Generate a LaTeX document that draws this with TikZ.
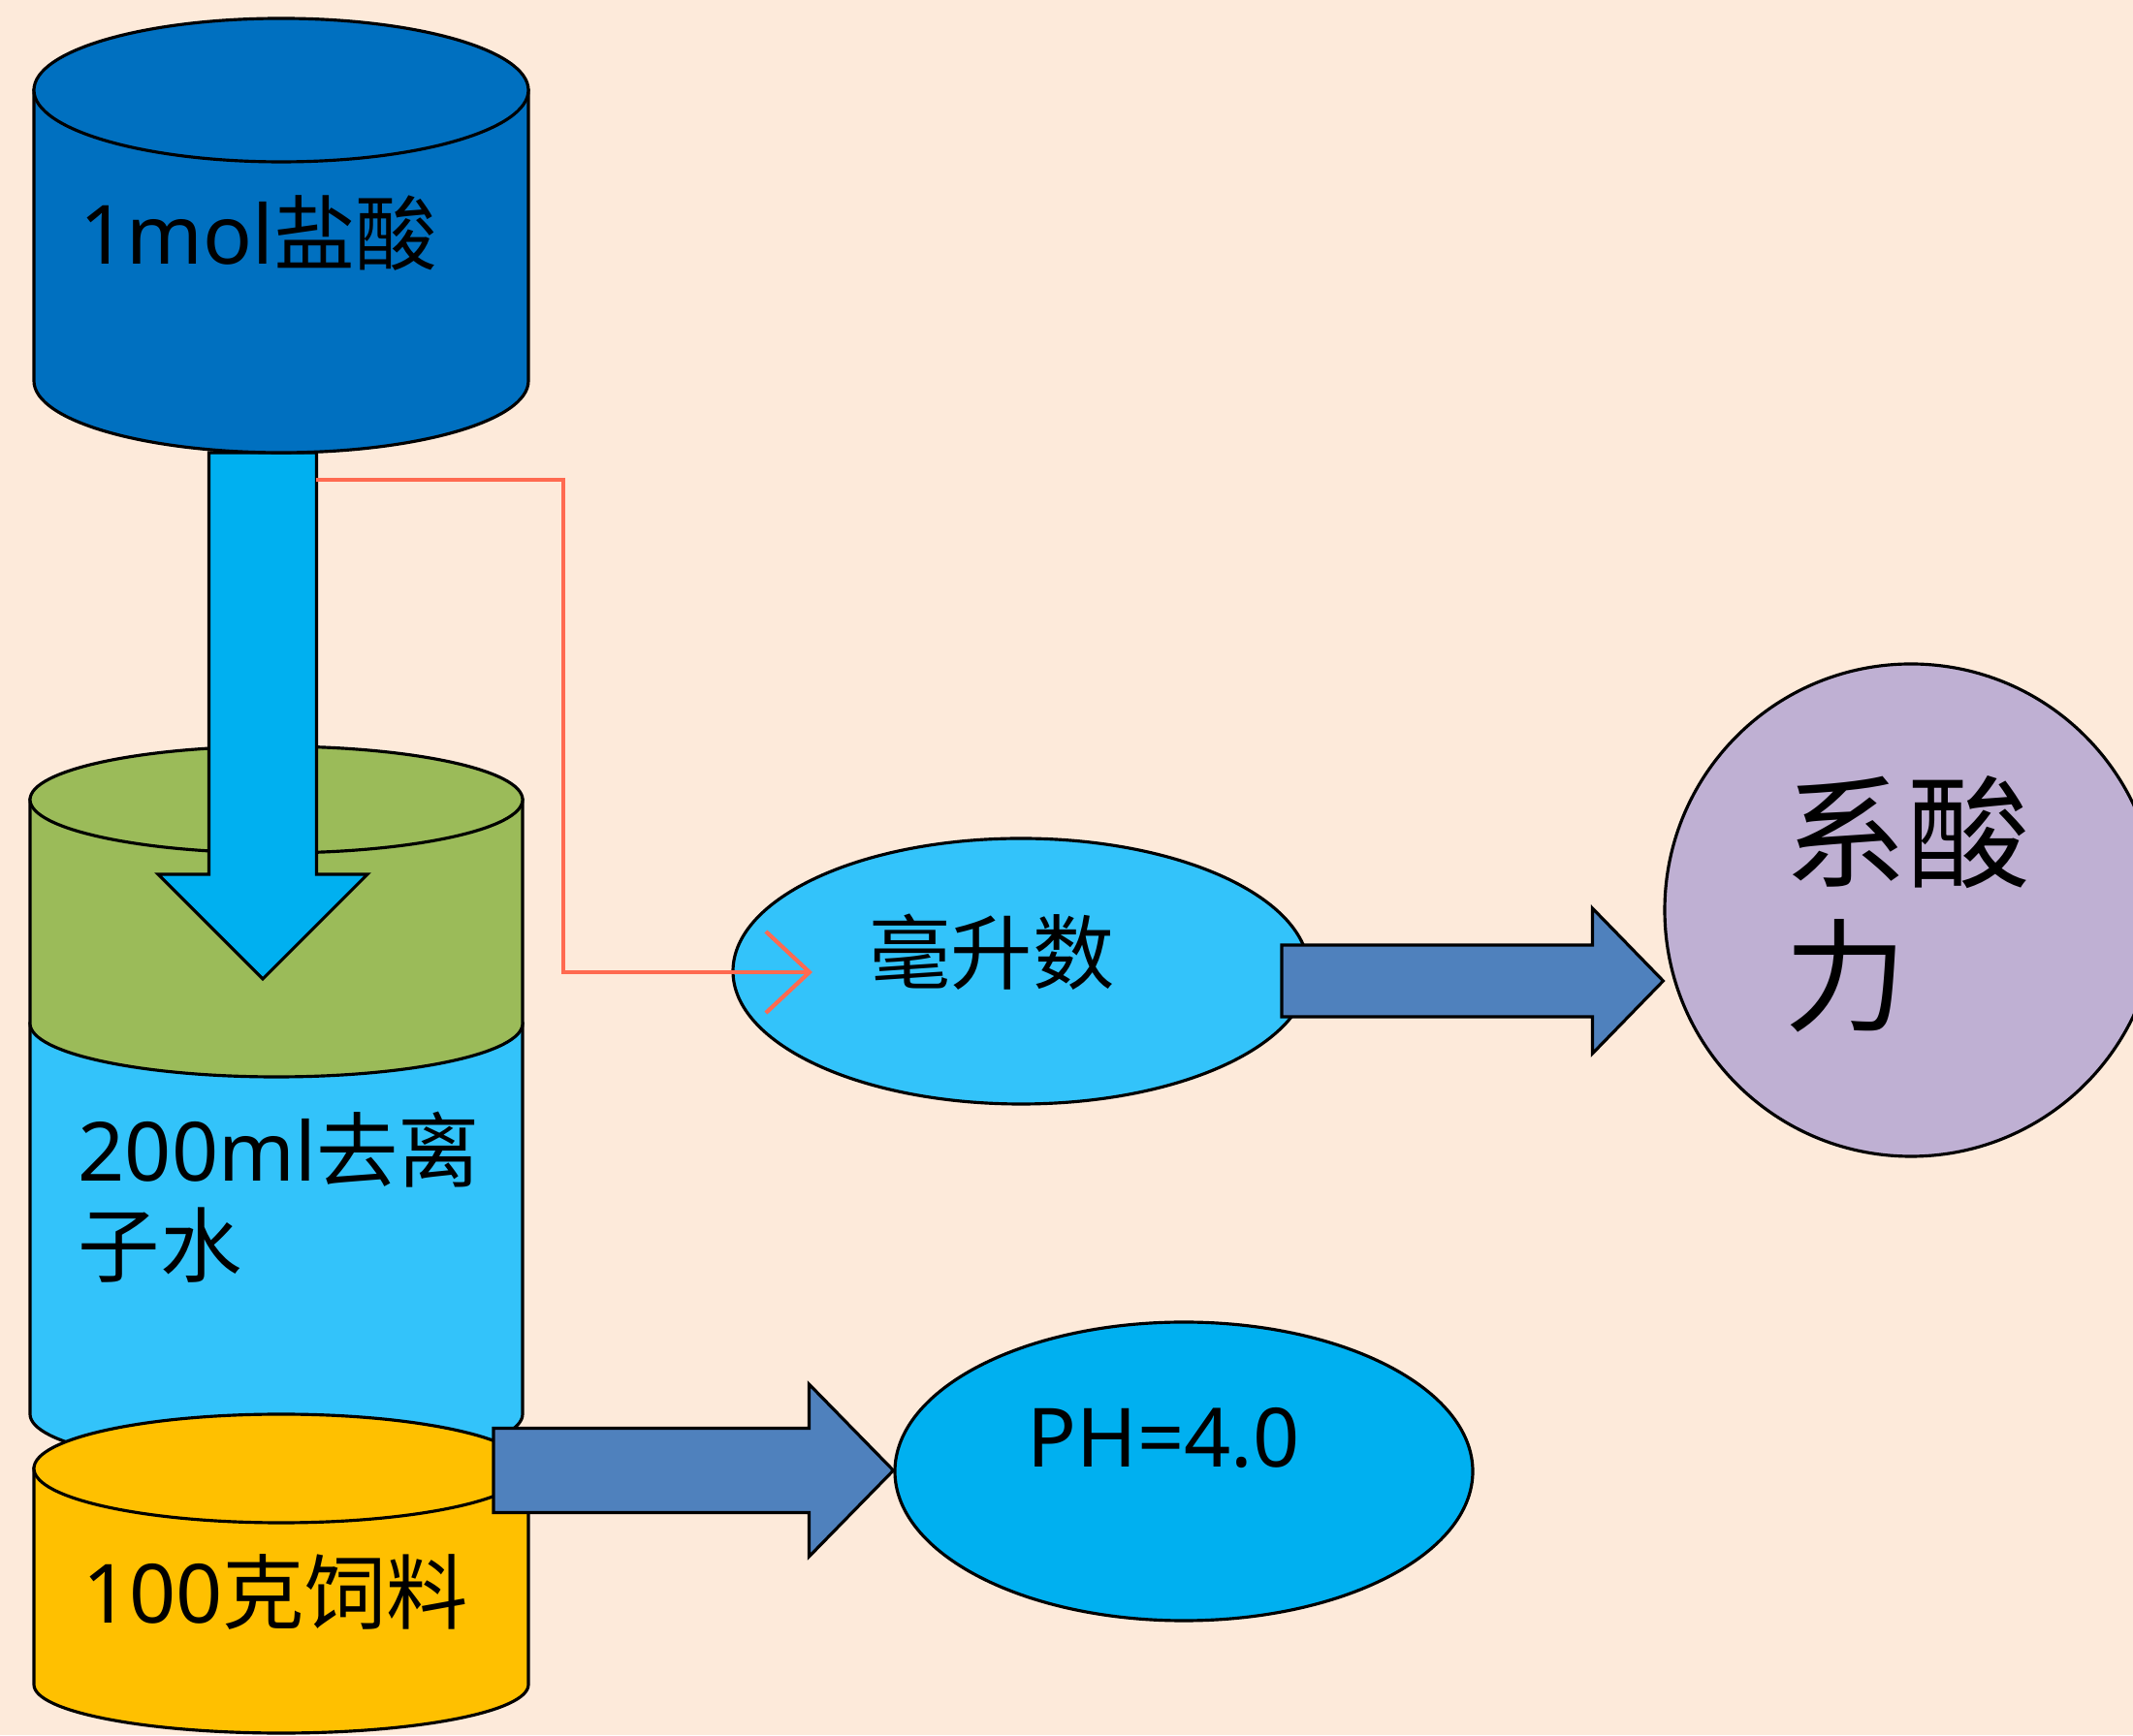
\documentclass[tikz,border=0pt]{standalone}
\usepackage{fontspec}
\setmainfont{Noto Sans}
\newfontfamily\cjk{Noto Sans CJK SC}
\usetikzlibrary{shapes.geometric,arrows.meta,calc}

\definecolor{fondo}{HTML}{FDEADA}
\definecolor{acido}{HTML}{0070C0}
\definecolor{chorro}{HTML}{00B0F0}
\definecolor{verde}{HTML}{9BBB59}
\definecolor{aguaclara}{HTML}{33C3FA}
\definecolor{pienso}{HTML}{FFC000}
\definecolor{flecha}{HTML}{4F81BD}
\definecolor{lila}{HTML}{BFB0D3}
\definecolor{rojo}{HTML}{FF6A50}

\tikzset{
    borde/.style={draw=black, line width=0.9pt},
    texto/.style={inner sep=0pt, font=\fontsize{24}{28}\selectfont},
    bola/.style={ellipse, borde, inner sep=0pt},
    gorda/.style={borde, fill=flecha},
}

% flecha gruesa horizontal: desde, hasta, cuerpo, punta, largo punta
\newcommand{\flechagorda}[5]{%
    \draw[gorda] let \p1=(#1), \p2=(#2) in
        (\x1,\y1+#3) -- (\x2-#5,\y1+#3) -- (\x2-#5,\y1+#4) -- (\x2,\y1)
        -- (\x2-#5,\y1-#4) -- (\x2-#5,\y1-#3) -- (\x1,\y1-#3) -- cycle;}

\begin{document}
\begin{tikzpicture}
    \clip (0,0) rectangle (22,17.9);
    \fill[fondo] (0,0) rectangle (22,17.9);

    % Agua desionizada
    \draw[borde, fill=aguaclara] (0.31,7.34) -- (0.31,3.31) arc[start angle=180, end angle=360, x radius=2.54, y radius=0.55] -- (5.39,7.34) -- cycle;
    % Capa verde
    \draw[borde, fill=verde] (0.31,9.65) -- (0.31,7.34) arc[start angle=180, end angle=360, x radius=2.54, y radius=0.55] -- (5.39,9.65) -- cycle;
    \draw[borde, fill=verde] (2.85,9.65) ellipse[x radius=2.54, y radius=0.55];
    % Pienso
    \draw[borde, fill=pienso] (0.35,2.75) -- (0.35,0.52) arc[start angle=180, end angle=360, x radius=2.55, y radius=0.5] -- (5.45,2.75) -- cycle;
    \draw[borde, fill=pienso] (2.90,2.75) ellipse[x radius=2.55, y radius=0.56];

    % Chorro de acido
    \coordinate (salida) at (2.71,13.23);
    \coordinate (punta) at (2.71,7.80);
    \draw[borde, fill=chorro] ($(salida)+(-0.555,0)$) -- ($(punta)+(-0.555,1.08)$) -- ($(punta)+(-1.08,1.08)$) -- (punta)
        -- ($(punta)+(1.08,1.08)$) -- ($(punta)+(0.555,1.08)$) -- ($(salida)+(0.555,0)$) -- cycle;

    % Acido
    \draw[borde, fill=acido] (0.35,16.97) -- (0.35,13.97) arc[start angle=180, end angle=360, x radius=2.55, y radius=0.74] -- (5.45,16.97) -- cycle;
    \draw[borde, fill=acido] (2.90,16.97) ellipse[x radius=2.55, y radius=0.74];

    \node[texto] (txthcl) at (2.67,15.49) {1mol{\cjk 盐酸}};
    \node[texto, align=left, anchor=west] (txtagua) at (0.80,5.55) {200ml{\cjk 去离}\\{\cjk 子水}};
    \node[texto] (txtpienso) at (2.84,1.48) {100{\cjk 克饲料}};

    % Resultados
    \node[bola, fill=aguaclara, minimum width=5.94cm, minimum height=2.74cm] (ml) at (10.53,7.88) {};
    \node[bola, fill=chorro, minimum width=5.96cm, minimum height=3.08cm] (ph) at (12.21,2.72) {};
    \node[circle, borde, fill=lila, minimum size=5.08cm, inner sep=0pt] (sa) at (19.71,8.51) {};

    % Flechas gruesas
    \coordinate (sale1) at (13.22,7.78);
    \coordinate (sale2) at (5.09,2.73);
    \flechagorda{sale1}{sa.west |- sale1}{0.37cm}{0.75cm}{0.73cm}
    \flechagorda{sale2}{ph.west}{0.435cm}{0.89cm}{0.87cm}

    \node[texto] (txtml) at (10.23,8.08) {\cjk 毫升数};
    \node[texto] (txtph) at (12.00,3.06) {PH=4.0};
    \node[inner sep=0pt, font=\fontsize{36}{42}\selectfont\cjk, align=left, anchor=west] (txtsa) at (18.40,8.57) {系酸\\力};

    % Linea roja
    \coordinate (toma) at (3.26,12.95);
    \coordinate (llega) at (8.38,7.87);
    \draw[rojo, line width=1.2pt, -{Straight Barb[length=4.5mm,width=8.4mm]}] (toma) -- ++(2.55,0) |- (llega);
\end{tikzpicture}
\end{document}
